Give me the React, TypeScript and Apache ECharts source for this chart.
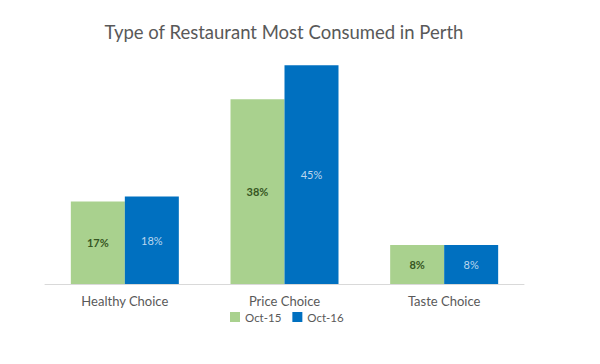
import React, { useEffect, useRef } from "react";
import * as echarts from "echarts";

const categories = ["Healthy Choice", "Price Choice", "Taste Choice"];
const oct15 = [17, 38, 8];
const oct16 = [18, 45, 8];
const seriesNames = ["Oct-15", "Oct-16"];

export default function App() {
  const ref = useRef<HTMLDivElement>(null);
  useEffect(() => {
    if (!ref.current) return;
    const chart = echarts.init(ref.current, null, { renderer: "svg" });
    const font = "Lato, 'Open Sans', sans-serif";
    chart.setOption({
      animation: false,
      backgroundColor: "#ffffff",
      title: {
        text: "Type of Restaurant Most Consumed in Perth",
        left: 279,
        textAlign: "center",
        top: 17,
        textStyle: { color: "#595959", fontSize: 18.5, fontWeight: "normal", fontFamily: font },
      },
      legend: {
        data: seriesNames,
        left: 230,
        top: 311,
        padding: 0,
        itemWidth: 10,
        itemHeight: 10,
        itemGap: 11,
        icon: "rect",
        textStyle: { color: "#595959", fontSize: 11.5, fontFamily: font },
      },
      grid: { left: 45, right: 76, top: 41, bottom: 80 },
      xAxis: {
        type: "category",
        data: categories,
        axisLine: { lineStyle: { color: "#d9d9d9" } },
        axisTick: { show: false },
        axisLabel: { color: "#595959", fontSize: 13, fontFamily: font, margin: 10 },
      },
      yAxis: {
        type: "value",
        min: 0,
        max: 50,
        show: false,
        splitLine: { show: false },
      },
      series: [
        {
          name: seriesNames[0],
          type: "bar",
          data: oct15,
          barWidth: 54,
          barGap: "0%",
          itemStyle: { color: "#a9d18e" },
          label: {
            show: true,
            position: "inside",
            formatter: "{c}%",
            color: "#375623",
            fontSize: 11,
            fontWeight: "bold",
            fontFamily: font,
          },
        },
        {
          name: seriesNames[1],
          type: "bar",
          data: oct16,
          barWidth: 54,
          itemStyle: { color: "#0070c0" },
          label: {
            show: true,
            position: "inside",
            formatter: "{c}%",
            color: "#bdd7ee",
            fontSize: 11,
            fontFamily: font,
          },
        },
      ],
    });
    return () => chart.dispose();
  }, []);
  return <div ref={ref} style={{ width: 600, height: 364, margin: -8 }} />;
}
